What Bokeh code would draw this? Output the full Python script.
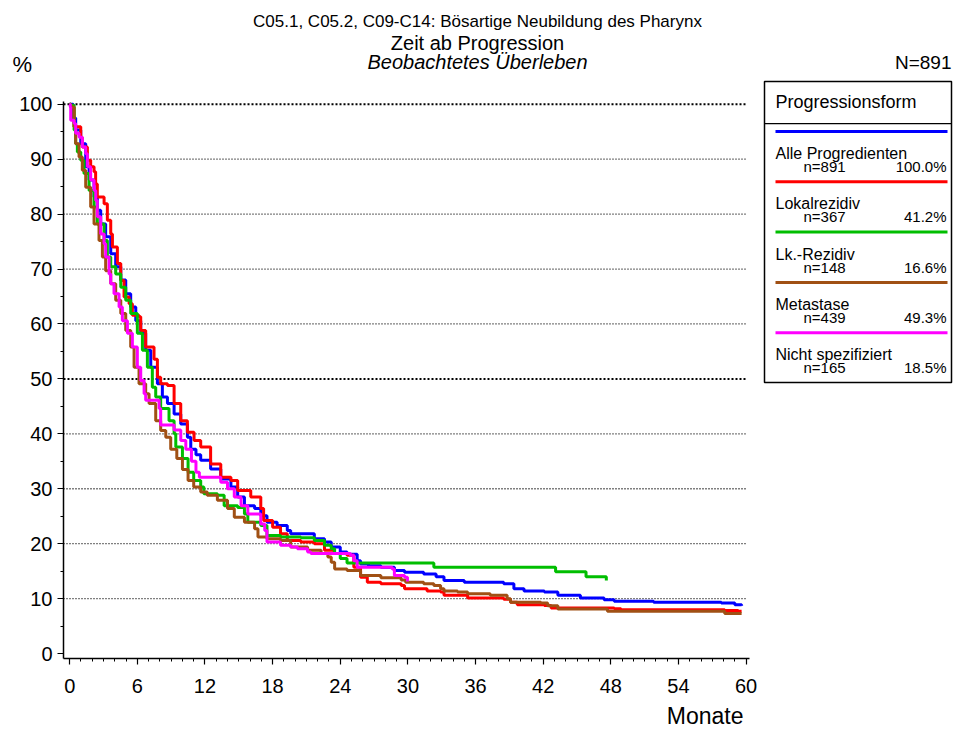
from bokeh.plotting import figure
from bokeh.models import Range1d, Label, BoxAnnotation, FixedTicker
from bokeh.embed import file_html
from bokeh.resources import INLINE

# ---- data (months, survival %) ----
alle = [(0,100),(0.3,97.5),(0.53,95.3),(0.98,92.8),(1.42,88.6),(1.72,86.2),(2.16,83.1),(2.45,80.7),
        (2.75,78.2),(3.19,75.9),(3.64,72.8),(4.08,70.4),(4.53,68.0),(4.97,65.5),(5.41,63.1),(5.86,60.6),
        (6.3,58.3),(6.74,55.2),(7.19,52.1),(7.78,49.1),(8.22,46.7),(8.67,45.5),(9.26,43.6),(9.85,41.8),
        (10.44,39.4),(10.74,37.2),(11.2,36.2),(11.62,35.2),(12.5,33.6),(13.4,31.8),(14.3,30.3),(14.9,28.5),
        (15.5,26.9),(16.4,26.4),(16.95,25.1),(17.5,23.9),(18.4,23.3),(19.3,22.4),(19.6,21.8),(21.7,20.9),
        (22.6,20.3),(23.2,19.4),(24.0,18.5),(24.6,18.1),(25.5,16.9),(25.8,16.3),(26.5,16.0),(27.6,15.7),
        (28.8,15.1),(29.7,14.8),(31.4,14.5),(32.5,14.0),(33.2,13.3),(35.0,13.0),(38.5,12.7),(39.4,11.8),
        (40.3,11.4),(42.1,11.2),(43.3,10.6),(45.3,10.1),(47.4,9.8),(48.3,9.5),(51.8,9.35),(57.8,9.2),
        (59.0,8.9),(59.6,8.7)]
lokal = [(0,100),(0.09,99.5),(0.385,95.9),(0.98,94.0),(1.12,92.2),(1.57,89.8),(1.86,88.6),(2.16,87.7),
         (2.3,85.5),(2.45,83.1),(3.05,81.9),(3.34,78.9),(3.64,76.4),(3.79,74.0),(4.23,71.0),(4.53,67.9),
         (4.82,64.9),(5.27,63.7),(5.56,61.6),(6.15,61.3),(6.3,58.8),(6.74,55.8),(7.48,53.6),(7.78,50.3),
         (8.07,49.1),(8.67,48.8),(9.26,45.5),(9.85,42.4),(10.44,40.3),(11.03,38.8),(11.62,37.6),(12.5,34.5),
         (13.4,32.1),(14.3,31.5),(14.9,29.7),(16.06,28.5),(16.95,26.4),(17.2,24.2),(18.0,23.0),(18.7,21.8),
         (19.3,20.6),(20.5,20.3),(21.7,20.0),(22.6,18.8),(23.45,18.2),(24.6,17.9),(25.2,15.7),(25.8,13.9),
         (26.4,13.0),(27.6,12.7),(29.4,12.4),(29.7,11.8),(31.7,11.4),(32.9,11.2),(33.2,10.6),(35.3,10.1),
         (38.5,9.9),(39.1,9.35),(39.7,8.9),(42.1,8.74),(42.7,8.3),(48.3,8.14),(48.9,7.96),(58.1,7.83),
         (59.3,7.7),(59.6,7.7)]
lk = [(0,100),(0.09,99.8),(0.39,95.3),(0.53,92.8),(0.68,91.3),(0.98,89.8),(1.27,87.4),(1.72,84.3),
      (2.16,81.3),(2.45,78.2),(3.05,75.2),(3.34,72.2),(3.64,70.4),(4.08,69.1),(4.53,66.7),(4.97,64.3),
      (5.41,61.9),(6.0,58.3),(6.45,55.2),(6.89,52.1),(7.33,48.5),(7.63,46.7),(8.07,44.6),(8.81,42.4),
      (9.26,40.0),(9.41,37.6),(10.0,35.5),(10.5,33.0),(11.0,31.5),(11.62,30.3),(11.9,29.1),(13.1,28.8),
      (13.7,26.9),(14.9,26.6),(15.5,25.4),(15.8,23.9),(16.95,23.3),(17.5,21.5),(18.7,21.2),(20.5,21.1),
      (21.7,20.6),(22.6,19.7),(23.2,19.1),(23.5,18.2),(24.0,17.3),(24.6,16.5),(32.3,15.7),(43.1,14.9),
      (45.8,14.0),(47.6,13.3)]
meta = [(0,100),(0.09,99.5),(0.39,95.9),(0.53,92.8),(0.83,90.4),(1.12,88.0),(1.42,84.9),(1.86,81.3),
        (2.16,78.2),(2.6,75.2),(2.9,72.2),(3.19,69.7),(3.64,67.3),(4.08,64.3),(4.53,61.9),(4.97,58.8),
        (5.41,55.8),(5.71,52.1),(6.15,49.1),(6.74,47.3),(7.04,45.5),(7.63,42.4),(8.07,40.6),(8.52,39.4),
        (8.96,37.2),(9.5,35.5),(10.0,33.5),(10.5,31.5),(11.0,30.3),(11.62,29.4),(12.2,28.8),(13.1,27.9),
        (14.0,26.4),(14.6,24.8),(15.5,23.9),(16.4,22.7),(16.7,21.2),(17.5,20.9),(18.7,20.6),(19.6,19.4),
        (21.1,18.8),(22.3,18.2),(22.9,17.6),(23.2,16.6),(23.5,15.4),(24.6,15.1),(25.8,14.2),(27.6,13.8),
        (29.4,13.4),(29.8,13.0),(31.4,12.7),(32.3,12.4),(32.9,11.8),(33.2,11.4),(34.4,11.2),(35.3,10.9),
        (37.3,10.6),(38.8,10.0),(39.1,9.35),(41.8,9.2),(42.4,8.7),(43.3,8.1),(47.7,7.7),(58.1,7.3),
        (59.6,7.3)]
nicht = [(0,100),(0.05,99.5),(0.09,97.1),(0.39,96.5),(0.53,94.7),(0.83,94.0),(1.12,92.2),(1.42,91.0),
         (1.57,88.6),(1.86,86.2),(2.16,84.3),(2.31,82.5),(2.45,79.5),(2.75,76.4),(3.05,74.6),(3.19,72.2),
         (3.49,69.1),(3.64,67.3),(3.93,65.5),(4.38,63.1),(4.67,60.6),(5.12,58.3),(5.56,55.8),(6.0,52.1),
         (6.3,49.7),(6.6,47.3),(6.74,46.1),(7.93,44.6),(8.07,41.6),(9.26,40.7),(9.85,38.8),(10.3,37.2),
         (10.8,35.0),(11.2,33.0),(11.5,32.1),(13.4,31.2),(14.0,30.0),(14.6,28.5),(15.2,26.9),(15.8,25.4),
         (16.95,23.6),(17.3,22.4),(17.5,20.3),(18.7,19.7),(19.6,19.4),(20.2,19.1),(21.1,18.5),(21.4,18.2),
         (24.9,17.9),(25.2,16.9),(25.5,15.7),(28.6,15.4),(28.8,14.2),(29.7,13.9),(29.96,13.1)]

series = [alle, lokal, lk, meta, nicht]
names = ["Alle Progredienten", "Lokalrezidiv", "Lk.-Rezidiv", "Metastase", "Nicht spezifiziert"]
counts = ["n=891", "n=367", "n=148", "n=439", "n=165"]
shares = ["100.0%", "41.2%", "16.6%", "49.3%", "18.5%"]
colors = ["#0000FF", "#FF0000", "#00BE00", "#A05014", "#FF00FF"]

x_ticks = [0, 6, 12, 18, 24, 30, 36, 42, 48, 54, 60]
x_minor = list(range(0, 61))
y_ticks = [0, 10, 20, 30, 40, 50, 60, 70, 80, 90, 100]
y_minor = [5, 15, 25, 35, 45, 55, 65, 75, 85, 95]
grid_levels = [10, 20, 30, 40, 60, 70, 80, 90]
bold_levels = [50, 100]

title_lines = ["C05.1, C05.2, C09-C14: Bösartige Neubildung des Pharynx",
               "Zeit ab Progression", "Beobachtetes Überleben"]
FONT = "Liberation Sans"

# ---- geometry: frame fills the canvas, axes drawn at fixed locations ----
W, H = 954, 730
X0, Y0 = 63, 658            # pixel position of the axis corner
XMIN, YMIN = -0.55, -0.9     # data value at the axis corner
PXM = 686 / 60.85            # pixels per month
PXP = 557 / 101.4            # pixels per percent

p = figure(width=W, height=H, output_backend="svg", toolbar_location=None,
           x_range=Range1d(XMIN - X0 / PXM, XMIN + (W - X0) / PXM),
           y_range=Range1d(YMIN - (H - Y0) / PXP, YMIN + Y0 / PXP),
           min_border=0, min_border_left=0, min_border_right=0,
           min_border_top=0, min_border_bottom=0)
p.title.visible = False
p.outline_line_color = None
p.xgrid.visible = False
p.ygrid.visible = False
p.background_fill_color = "white"
p.border_fill_color = "white"

for ax in (p.xaxis[0], p.yaxis[0]):
    ax.axis_line_color = "black"
    ax.axis_line_width = 1.5
    ax.major_tick_line_color = "black"
    ax.minor_tick_line_color = "black"
    ax.major_tick_in = 0
    ax.minor_tick_in = 0
    ax.major_tick_out = 6
    ax.minor_tick_out = 3
    ax.major_tick_line_width = 1.2
    ax.minor_tick_line_width = 1
    ax.major_label_text_font = FONT
    ax.major_label_text_font_size = "20px"
    ax.major_label_text_color = "black"
p.xaxis.ticker = FixedTicker(ticks=x_ticks, minor_ticks=x_minor)
p.yaxis.ticker = FixedTicker(ticks=y_ticks, minor_ticks=y_minor)
p.xaxis.fixed_location = YMIN
p.yaxis.fixed_location = XMIN
p.xaxis.bounds = (XMIN, 60.3)
p.yaxis.bounds = (YMIN, 100.5)
p.xaxis.major_label_standoff = 14
p.yaxis.major_label_standoff = 5

# dotted grid lines
p.segment(x0=[XMIN] * len(grid_levels), x1=[60] * len(grid_levels), y0=grid_levels, y1=grid_levels,
          line_color="black", line_width=1.3, line_dash="1 2")
p.segment(x0=[XMIN] * len(bold_levels), x1=[60] * len(bold_levels), y0=bold_levels, y1=bold_levels,
          line_color="black", line_width=2, line_dash="2 2")

# survival curves
for s, c in zip(series, colors):
    xs = [a for a, b in s]
    ys = [b for a, b in s]
    p.step(xs, ys, mode="after", line_color=c, line_width=3)

# ---- texts & legend (pixel positions on the canvas, y measured from top) ----
def label(text, X, Y, size, align="left", baseline="middle", style="normal"):
    p.add_layout(Label(x=X, y=H - Y, x_units="screen", y_units="screen", text=text,
                       text_font=FONT, text_font_size=size, text_align=align,
                       text_baseline=baseline, text_font_style=style, text_color="black"))

def box(left, right, top, bottom, fill, line=None, lw=1.0):
    p.add_layout(BoxAnnotation(left=left, right=right, top=H - top, bottom=H - bottom,
                               left_units="screen", right_units="screen",
                               top_units="screen", bottom_units="screen",
                               fill_color=fill, fill_alpha=1,
                               line_color=line if line else fill, line_alpha=1 if line else 0,
                               line_width=lw))

label(title_lines[0], 477, 21, "17px", align="center")
label(title_lines[1], 477, 42, "20px", align="center")
label(title_lines[2], 477, 61, "20px", align="center", style="italic")
label("%", 12, 64, "22px")
label("N=891", 951, 62, "19px", align="right")
label("Monate", 743, 715, "23px", align="right")

# legend
box(764, 951, 81, 382, "white", line="black", lw=1.5)
box(764, 951, 122.5, 123.7, "black")
label("Progressionsform", 775, 101, "18px")
for i, (nm, cn, sh, c) in enumerate(zip(names, counts, shares, colors)):
    y0 = 131 + 50.3 * i
    box(775, 947, y0 - 1.5, y0 + 1.5, c)
    label(nm, 775, y0 + 22, "16px", baseline="alphabetic")
    label(cn, 803, y0 + 35, "15px", baseline="alphabetic")
    label(sh, 946, y0 + 35, "15px", align="right", baseline="alphabetic")

open("out.html", "w").write(file_html(p, INLINE))
